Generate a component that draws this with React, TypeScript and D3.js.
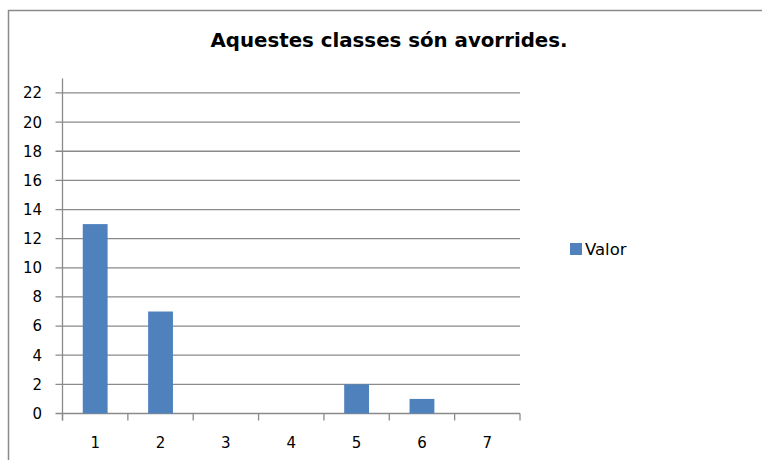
import React from 'react';
import * as d3 from 'd3';

const categories = ['1', '2', '3', '4', '5', '6', '7'];
const values = [13, 7, 0, 0, 2, 1, 0];
const yTicks = [0, 2, 4, 6, 8, 10, 12, 14, 16, 18, 20, 22];
const seriesName = 'Valor';
const title = 'Aquestes classes són avorrides.';

const W = 762;
const H = 460;
const plot = { left: 62.5, right: 520, top: 78.4, bottom: 413.5 };
const barColor = '#4F81BD';
const lineColor = '#8a8a8a';
const font = '"DejaVu Sans", Verdana, sans-serif';

export default function App() {
	const x = d3.scaleBand().domain(categories).range([plot.left, plot.right]);
	const y = d3.scaleLinear().domain([0, 23]).range([plot.bottom, plot.top]);
	const barW = x.bandwidth() * 0.38;
	const edges = d3.range(categories.length + 1).map((i) => plot.left + i * x.step());

	return (
		<svg width={W} height={H} style={{ position: 'absolute', left: 0, top: 0 }} fontFamily={font}>
			<rect width={W} height={H} fill="#fff" />
			{/* chart border, cropped at right and bottom */}
			<line x1={8} x2={W} y1={10.5} y2={10.5} stroke={lineColor} strokeWidth={1.5} />
			<line x1={8.5} x2={8.5} y1={10} y2={H} stroke={lineColor} strokeWidth={1.5} />

			<text x={389} y={47} textAnchor="middle" fontSize={19.8} fontWeight="bold" fill="#000">
				{title}
			</text>

			{/* gridlines + y ticks */}
			{yTicks.map((t) => (
				<g key={t}>
					<line x1={plot.left - 7} x2={plot.right} y1={y(t)} y2={y(t)} stroke={lineColor} strokeWidth={1.3} />
					<text x={42} y={y(t)} dy="0.36em" textAnchor="end" fontSize={15} fill="#000">
						{t}
					</text>
				</g>
			))}

			{/* y axis line */}
			<line x1={plot.left} x2={plot.left} y1={plot.top} y2={plot.bottom + 7} stroke={lineColor} strokeWidth={1.3} />

			{/* bars */}
			{values.map((v, i) => (
				<rect
					key={i}
					x={x(categories[i])! + (x.bandwidth() - barW) / 2}
					y={y(v)}
					width={barW}
					height={y(0) - y(v)}
					fill={barColor}
				/>
			))}

			{/* x axis ticks */}
			{edges.map((e, i) => (
				<line key={i} x1={e} x2={e} y1={plot.bottom} y2={plot.bottom + 7} stroke={lineColor} strokeWidth={1.3} />
			))}
			{categories.map((c) => (
				<text key={c} x={x(c)! + x.bandwidth() / 2} y={443} dy="0.36em" textAnchor="middle" fontSize={15} fill="#000">
					{c}
				</text>
			))}

			{/* legend */}
			<rect x={570} y={243} width={12} height={12} fill={barColor} />
			<text x={585} y={249.5} dy="0.36em" fontSize={16.5} fill="#000">
				{seriesName}
			</text>
		</svg>
	);
}
